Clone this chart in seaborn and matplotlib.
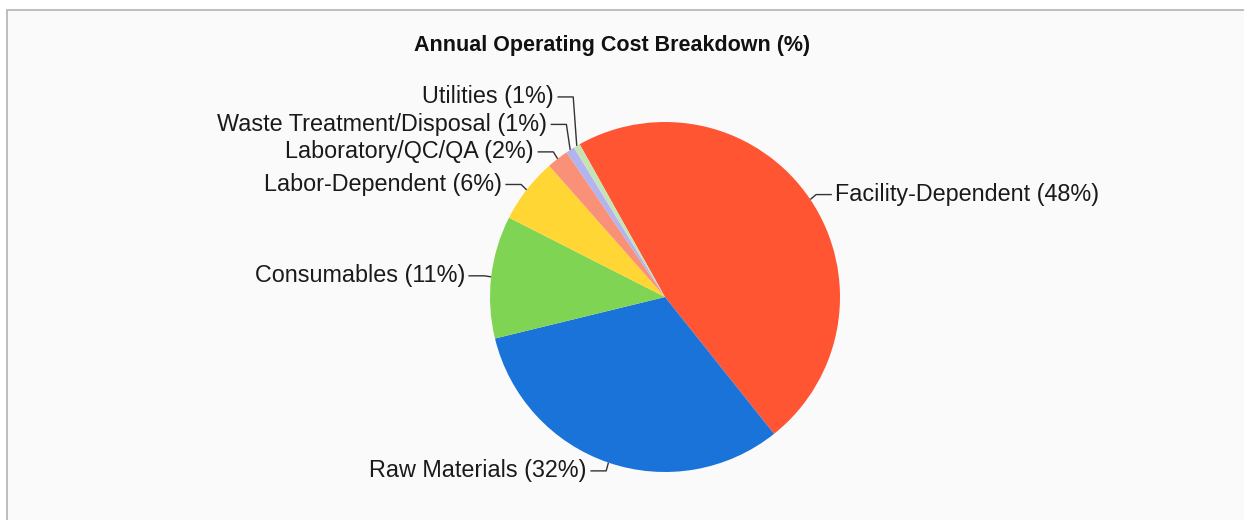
import matplotlib
matplotlib.use("Agg")
import matplotlib.pyplot as plt
import matplotlib.patches as mpatches
import numpy as np
import seaborn as sns

# data (percent of annual operating cost)
categories = ["Facility-Dependent", "Raw Materials", "Consumables", "Labor-Dependent",
              "Laboratory/QC/QA", "Waste Treatment/Disposal", "Utilities"]
shares = [47.4, 31.9, 11.3, 6.0, 2.0, 0.8, 0.6]
label_pct = [48, 32, 11, 6, 2, 1, 1]
slice_colors = ["#ff5533", "#1a73d9", "#80d453", "#ffd633", "#f99078", "#b3b3f0", "#c5e3b5"]

sns.set_theme(style="white")
plt.rcParams['font.family'] = ['Liberation Sans', 'DejaVu Sans']

fig = plt.figure(figsize=(12.44, 5.2), dpi=100, facecolor="white")

# chart frame
frame = mpatches.Rectangle((7 / 1244, -0.1), 1.1, (510 / 520) + 0.1, transform=fig.transFigure,
                           facecolor="#fafafa", edgecolor="#b4b4b4", linewidth=1.2, zorder=-10)
fig.patches.append(frame)

ax = fig.add_axes([0, 0, 1, 1])
ax.patch.set_visible(False)

pal = sns.color_palette(slice_colors)
wedges, _ = ax.pie(shares, colors=pal, startangle=119.2, counterclock=False, radius=1,
                   center=(0, 0), wedgeprops=dict(linewidth=0))

ax.set_xlim(-665 / 175, (1244 - 665) / 175)
ax.set_ylim(-(520 - 297) / 175, 297 / 175)
ax.set_aspect("equal")
ax.axis("off")

# leader lines and labels
mids = [np.deg2rad((w.theta1 + w.theta2) / 2) for w in wedges]
pts = []
for i, a in enumerate(mids):
    pts.append([i, np.cos(a), np.sin(a), 1.05 * np.sin(a)])

# spread the left-hand labels so they do not overlap
left = sorted([p for p in pts if p[1] < 0], key=lambda p: p[3])
gap = 0.157
for k in range(1, len(left)):
    if left[k][3] < left[k - 1][3] + gap:
        left[k][3] = left[k - 1][3] + gap

for i, cx, cy, ly in pts:
    side = 1 if cx >= 0 else -1
    ex = 1.04 * cx
    hx = ex + side * 0.09
    ax.plot([cx, ex, hx], [cy, ly, ly], color="#333333", lw=1, solid_capstyle="butt")
    ax.text(hx + side * 0.02, ly, f"{categories[i]} ({label_pct[i]}%)",
            ha="left" if side > 0 else "right", va="center", fontsize=16.8, color="#1a1a1a")

fig.text(612 / 1244, 1 - 45 / 520, "Annual Operating Cost Breakdown (%)",
         ha="center", va="center", fontsize=15.5, fontweight="bold", color="#111111")

fig.savefig("out.png", dpi=100, facecolor="white")
